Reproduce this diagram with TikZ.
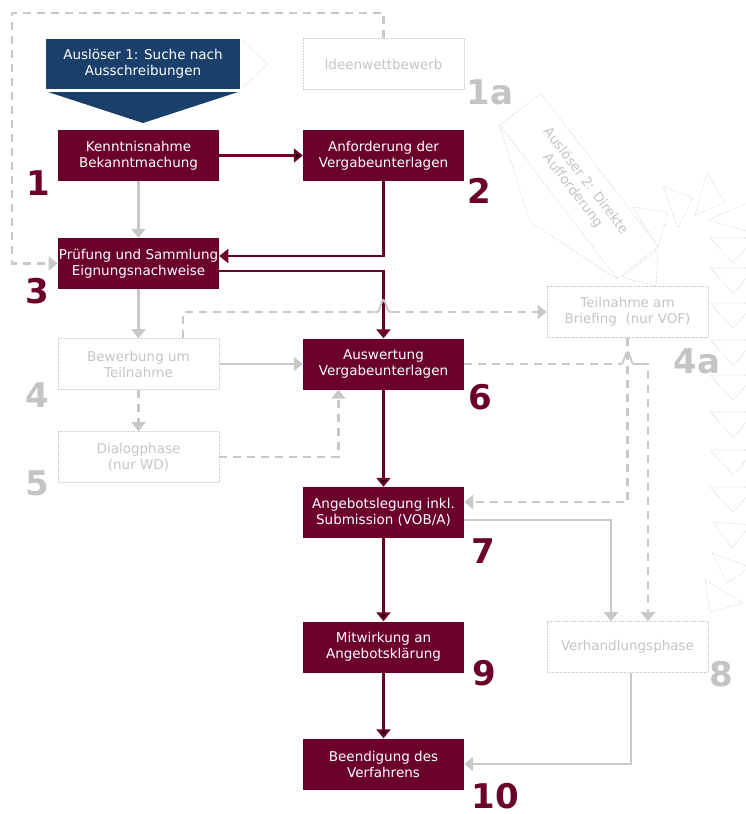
\documentclass[tikz,border=0pt]{standalone}
\usepackage{fontspec}
\setsansfont{DejaVu Sans}
\usepackage{xcolor}
\usepackage{tikz}
\usetikzlibrary{arrows.meta}

\definecolor{vred}{RGB}{107,0,41}
\definecolor{vblue}{RGB}{26,63,106}
\definecolor{lgrey}{RGB}{200,200,200}
\definecolor{fgrey}{RGB}{196,196,196}
\definecolor{dgrey}{RGB}{205,205,205}

\begin{document}
\begin{tikzpicture}[x=1pt,y=-1pt,>={Triangle[width=14pt,length=9pt]},
  red node/.style={rectangle,fill=vred,text=white,align=center,
  font=\sffamily\fontsize{13.5}{16}\selectfont,minimum width=161pt,
  minimum height=51pt,inner sep=1pt},
  blue node/.style={red node,fill=vblue,minimum width=194pt,minimum height=50pt},
  faded node/.style={red node,fill=none,text=fgrey,draw=dgrey,densely dotted,
  line width=0.6pt},
  red num/.style={font=\sffamily\fontsize{34}{34}\selectfont\bfseries,
  text=vred,inner sep=0pt},
  grey num/.style={red num,text=fgrey},
  red line/.style={draw=vred,line width=2.2pt},
  grey line/.style={draw=lgrey,line width=2.2pt},
  grey dash/.style={grey line,dash pattern=on 8pt off 6pt},
  hop/.style={draw=lgrey,line width=1.8pt},
  deco/.style={draw=dgrey,densely dotted,line width=0.6pt}]

  \useasboundingbox (0,0) rectangle (746,814);

  \node[blue node] (trig1) at (143,64) {Auslöser 1: Suche nach\\Ausschreibungen};
  \fill[vblue] (48,92) -- (238,92) -- (143,123) -- cycle;
  \draw[deco] (242,40) -- (268,64) -- (242,88);
  \node[faded node] (idee) at (383.5,64) {Ideenwettbewerb};

  \node[red node] (b1) at (138.5,155.5) {Kenntnisnahme\\Bekanntmachung};
  \node[red node] (b2) at (383.5,155.5) {Anforderung der\\Vergabeunterlagen};
  \node[red node] (b3) at (138.5,263.5) {Prüfung und Sammlung\\Eignungsnachweise};
  \node[faded node] (b4) at (138.5,364) {Bewerbung um\\Teilnahme};
  \node[faded node] (p4a) at (627.5,312) {Teilnahme am\\Briefing\ \ (nur VOF)};
  \node[faded node] (b5) at (138.5,457) {Dialogphase\\(nur WD)};
  \node[red node] (b6) at (383.5,364) {Auswertung\\Vergabeunterlagen};
  \node[red node] (b7) at (383.5,512.5) {Angebotslegung inkl.\\Submission (VOB/A)};
  \node[faded node] (b8) at (627.5,647) {Verhandlungsphase};
  \node[red node] (b9) at (383.5,647) {Mitwirkung an\\Angebotsklärung};
  \node[red node] (b10) at (383.5,764) {Beendigung des\\Verfahrens};

  \node[faded node,rotate=-52.6,minimum width=193pt,minimum height=52pt]
    (trig2) at (579,186) {Auslöser 2: Direkte\\Aufforderung};
  \draw[deco] (trig2.south west) -- (530,222) -- (trig2.south east);
  \draw[deco] (633,207) -- (668,212) -- (658,247) -- cycle;
  \draw[deco] (663,186) -- (693,198) -- (678,228) -- cycle;
  \draw[deco] (707,173) -- (725,202) -- (695,215) -- cycle;
  \draw[deco] (708,220) -- (750,202) -- (750,232) -- cycle;
  \draw[deco] (622,277) -- (658,250) -- (656,286) -- cycle;
  \foreach \y in {238,268,303,340,375,412,450,487}
    \draw[deco] (710,\y) -- (756,\y) -- (733,\y+25) -- cycle;
  \draw[deco] (713,522) -- (750,525) -- (732,548) -- cycle;
  \draw[deco] (712,553) -- (750,567) -- (727,583) -- cycle;
  \draw[deco] (705,580) -- (743,603) -- (710,612) -- cycle;

  \node[red num] (n1) at (38,183) {1};
  \node[grey num] (n1a) at (490,92) {1a};
  \node[red num] (n2) at (479,191) {2};
  \node[red num] (n3) at (37,291) {3};
  \node[grey num] (n4) at (37,395) {4};
  \node[grey num] (n4a) at (697,361) {4a};
  \node[grey num] (n5) at (37,483) {5};
  \node[red num] (n6) at (480,397) {6};
  \node[red num] (n7) at (483,551) {7};
  \node[grey num] (n8) at (721,674) {8};
  \node[red num] (n9) at (484,673) {9};
  \node[red num] (n10) at (495,796) {10};

  \coordinate (loop) at (12,13);
  \coordinate (hopA) at (383.5,312);
  \coordinate (hopB) at (627.5,364);

  \path[red line,->]
    (b1) edge (b2)
    (b6) edge (b7)
    (b7) edge (b9)
    (b9) edge (b10);
  \draw[grey line,->] (b1) -- (b3);
  \draw[grey line,->] (b3) -- (b4);
  \draw[grey line,->] (b4) -- (b6);
  \draw[grey dash,->] (b4) -- (b5);

  \draw[red line,->] (b2.south) |- ([yshift=7.5pt]b3.east);
  \draw[red line,->] ([yshift=-7.5pt]b3.east) -| (b6.north);
  \draw[grey dash,->] (idee.north) |- (loop) |- (b3.west);
  \draw[grey dash] ([xshift=44.5pt]b4.north) |- ([xshift=-8pt]hopA);
  \draw[hop] ([xshift=-8pt]hopA) -- ([xshift=-6pt]hopA)
    .. controls +(2,0) and +(-2,0) .. ([yshift=12pt]hopA)
    .. controls +(2,0) and +(-2,0) .. ([xshift=6pt]hopA) -- ([xshift=8pt]hopA);
  \draw[grey dash,->] ([xshift=8pt]hopA) -- (p4a.west);
  \draw[grey dash,->] (b5.east) -| ([xshift=-45pt]b6.south);
  \draw[grey dash] (b6.east) -- ([xshift=-8pt]hopB);
  \draw[hop] ([xshift=-8pt]hopB) -- ([xshift=-6pt]hopB)
    .. controls +(2,0) and +(-2,0) .. ([yshift=12pt]hopB)
    .. controls +(2,0) and +(-2,0) .. ([xshift=6pt]hopB) -- ([xshift=13pt]hopB);
  \draw[grey dash,->] ([xshift=13pt]hopB) -| ([xshift=20.5pt]b8.north);
  \draw[grey dash,->] (p4a.south) |- ([yshift=10.5pt]b7.east);
  \draw[grey line,->] ([yshift=-7.5pt]b7.east) -| ([xshift=-16.5pt]b8.north);
  \draw[grey line,->] ([xshift=3.5pt]b8.south) |- (b10.east);

\end{tikzpicture}
\end{document}
